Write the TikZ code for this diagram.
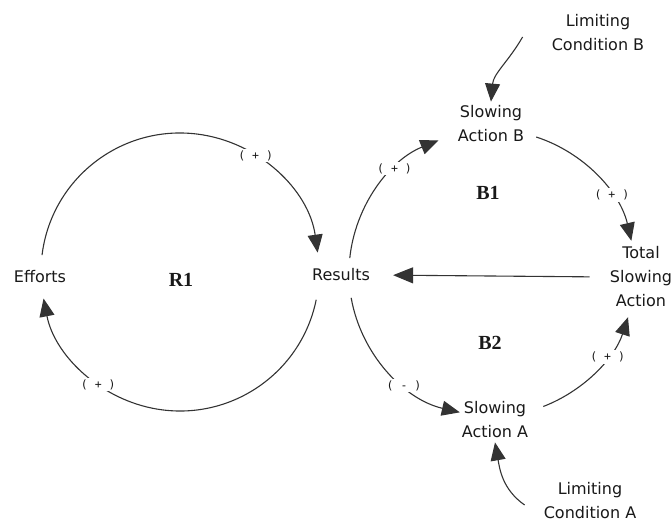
\documentclass[tikz,border=0pt]{standalone}
\usepackage{fontspec}
\setmainfont{DejaVu Sans}
\newfontfamily\signfont{DejaVu Sans Mono}
\newfontfamily\loopfont{Liberation Serif}
\usetikzlibrary{arrows.meta}
\begin{document}
\begin{tikzpicture}[x=1pt,y=1pt,
  var/.style={align=center, font=\fontsize{16}{24}\selectfont, text=black!90, inner sep=3pt},
  sign/.style={font=\signfont\fontsize{11.5}{12}\selectfont, fill=white, inner sep=1.5pt, text=black!90},
  looplbl/.style={font=\loopfont\bfseries\fontsize{20}{24}\selectfont, text=black!90},
  link/.style={draw=black!80, line width=1.1pt, -{Triangle[length=18pt,width=15pt]}},
]
\useasboundingbox (0,0) rectangle (672,522);

% variables
\node[var] (eff) at (40,245) {Efforts};
\node[var] (res) at (341,247) {Results};
\node[var] (sab) at (491,398) {Slowing\\Action B};
\node[var] (tsa) at (641,245) {Total\\Slowing\\Action};
\node[var] (saa) at (495,102) {Slowing\\Action A};
\node[var] (lcb) at (598,489) {Limiting\\Condition B};
\node[var] (lca) at (590,21) {Limiting\\Condition A};

% loop names
\node[looplbl] (r1) at (181,242) {R1};
\node[looplbl] (b1) at (488,329) {B1};
\node[looplbl] (b2) at (490,179) {B2};

% centres of the two loops
\coordinate (rc) at (180,250);
\coordinate (bc) at (492,249);

% reinforcing loop R1
\draw[link] ([shift={(173:139)}]rc) arc[start angle=173, end angle=8, radius=139];
\draw[link] ([shift={(-11.5:139)}]rc) arc[start angle=-11.5, end angle=-169, radius=139];

% balancing loops B1 and B2
\draw[link] ([shift={(174:143)}]bc) arc[start angle=174, end angle=112, radius=143];
\draw[link] ([shift={(72:143)}]bc) arc[start angle=72, end angle=13, radius=143];
\draw[link] ([shift={(190:143)}]bc) arc[start angle=190, end angle=257, radius=143];
\draw[link] ([shift={(-69:143)}]bc) arc[start angle=-69, end angle=-18, radius=143];

% total slowing action back to results
\draw[link, -{Triangle[length=20pt,width=16pt]}, shorten <=17pt, shorten >=20pt] (tsa.west) -- (res.east);

% limiting conditions
\draw[link] ([xshift=-26pt,yshift=-4pt]lcb.west) to[out=240, in=85] ([yshift=1pt]sab.north);
\draw[link] ([xshift=-16pt,yshift=-4pt]lca.west) to[out=145, in=-80] ([yshift=-1pt]saa.south);

% polarity marks
\node[sign] (s1) at ([shift={(57:139)}]rc) {( + )};
\node[sign] (s2) at ([shift={(234:139)}]rc) {( + )};
\node[sign] (s3) at ([shift={(133:143)}]bc) {( + )};
\node[sign] (s4) at ([shift={(33:143)}]bc) {( + )};
\node[sign] (s5) at ([shift={(232:143)}]bc) {( - )};
\node[sign] (s6) at ([shift={(-36:143)}]bc) {( + )};
\end{tikzpicture}
\end{document}
